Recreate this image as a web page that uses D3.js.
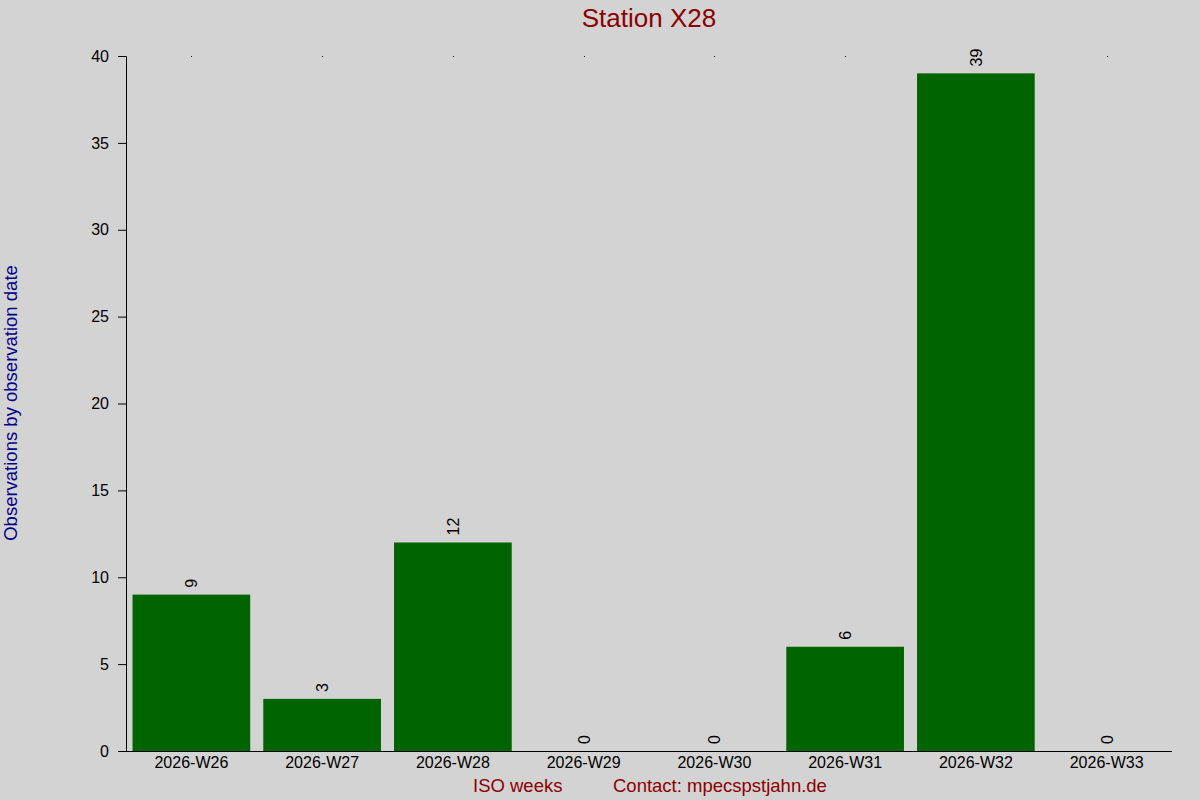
<!DOCTYPE html>
<html>
<head>
<meta charset="utf-8">
<script src="https://cdn.jsdelivr.net/npm/d3@7"></script>
<style>
  body { margin: 0; background: #d3d3d3; }
  svg { display: block; font-family: "Liberation Sans", Arial, sans-serif; }
</style>
</head>
<body>
<div id="chart"></div>
<script>
var weeks = ['2026-W26', '2026-W27', '2026-W28', '2026-W29', '2026-W30', '2026-W31', '2026-W32', '2026-W33'];
var counts = [9, 3, 12, 0, 0, 6, 39, 0];
var yTicks = [0, 5, 10, 15, 20, 25, 30, 35, 40];

var width = 1200, height = 800;
var margin = {top: 56, right: 28, bottom: 49, left: 126};

var svg = d3.select('#chart').append('svg')
    .attr('width', width)
    .attr('height', height);

svg.append('rect')
    .attr('width', width)
    .attr('height', height)
    .attr('fill', '#d3d3d3');

var x = d3.scaleBand()
    .domain(weeks)
    .range([margin.left, width - margin.right])
    .paddingInner(0.1)
    .paddingOuter(0.05);

var y = d3.scaleLinear()
    .domain([0, 40])
    .range([height - margin.bottom, margin.top]);

// bars
svg.append('g').selectAll('rect')
    .data(counts)
    .enter().append('rect')
    .attr('x', function(d, i) { return x(weeks[i]); })
    .attr('y', function(d) { return y(d); })
    .attr('width', x.bandwidth())
    .attr('height', function(d) { return y(0) - y(d); })
    .attr('fill', '#006400');

// value labels, rotated
svg.append('g').selectAll('text')
    .data(counts)
    .enter().append('text')
    .attr('transform', function(d, i) {
        var cx = x(weeks[i]) + x.bandwidth() / 2;
        return 'translate(' + (cx + 6) + ',' + (y(d) - 7) + ') rotate(-90)';
    })
    .attr('font-size', 16)
    .attr('fill', '#000')
    .text(function(d) { return d; });

// little dots on top
svg.append('g').selectAll('rect')
    .data(weeks)
    .enter().append('rect')
    .attr('x', function(d) { return Math.round(x(d) + x.bandwidth() / 2); })
    .attr('y', y(40))
    .attr('width', 1)
    .attr('height', 1)
    .attr('fill', '#000');

// y axis
var yAxis = svg.append('g')
    .attr('transform', 'translate(' + margin.left + ',0)')
    .call(d3.axisLeft(y).tickValues(yTicks).tickSizeOuter(0).tickSize(8).tickPadding(9));
yAxis.selectAll('text').attr('font-size', 16).attr('fill', '#000').attr('font-family', null);
yAxis.selectAll('line, path').attr('stroke', '#000');

// x axis
var xAxis = svg.append('g')
    .attr('transform', 'translate(0,' + y(0) + ')')
    .call(d3.axisBottom(x).tickSize(0).tickSizeOuter(0).tickPadding(6));
xAxis.select('path').attr('d', 'M' + (margin.left - 8) + ',0.5H' + (width - margin.right)).attr('stroke', '#000');
xAxis.selectAll('text').attr('font-size', 16).attr('fill', '#000').attr('font-family', null);

// title
svg.append('text')
    .attr('x', 649)
    .attr('y', 27)
    .attr('text-anchor', 'middle')
    .attr('font-size', 26)
    .attr('fill', '#8b0000')
    .text('Station X28');

// y label
svg.append('text')
    .attr('transform', 'translate(17,403) rotate(-90)')
    .attr('text-anchor', 'middle')
    .attr('font-size', 18.5)
    .attr('fill', '#00008b')
    .text('Observations by observation date');

// bottom labels
svg.append('text')
    .attr('x', 473)
    .attr('y', 792)
    .attr('font-size', 18.5)
    .attr('fill', '#8b0000')
    .text('ISO weeks');

svg.append('text')
    .attr('x', 613)
    .attr('y', 792)
    .attr('font-size', 18.5)
    .attr('fill', '#8b0000')
    .text('Contact: mpecspstjahn.de');
</script>
</body>
</html>
